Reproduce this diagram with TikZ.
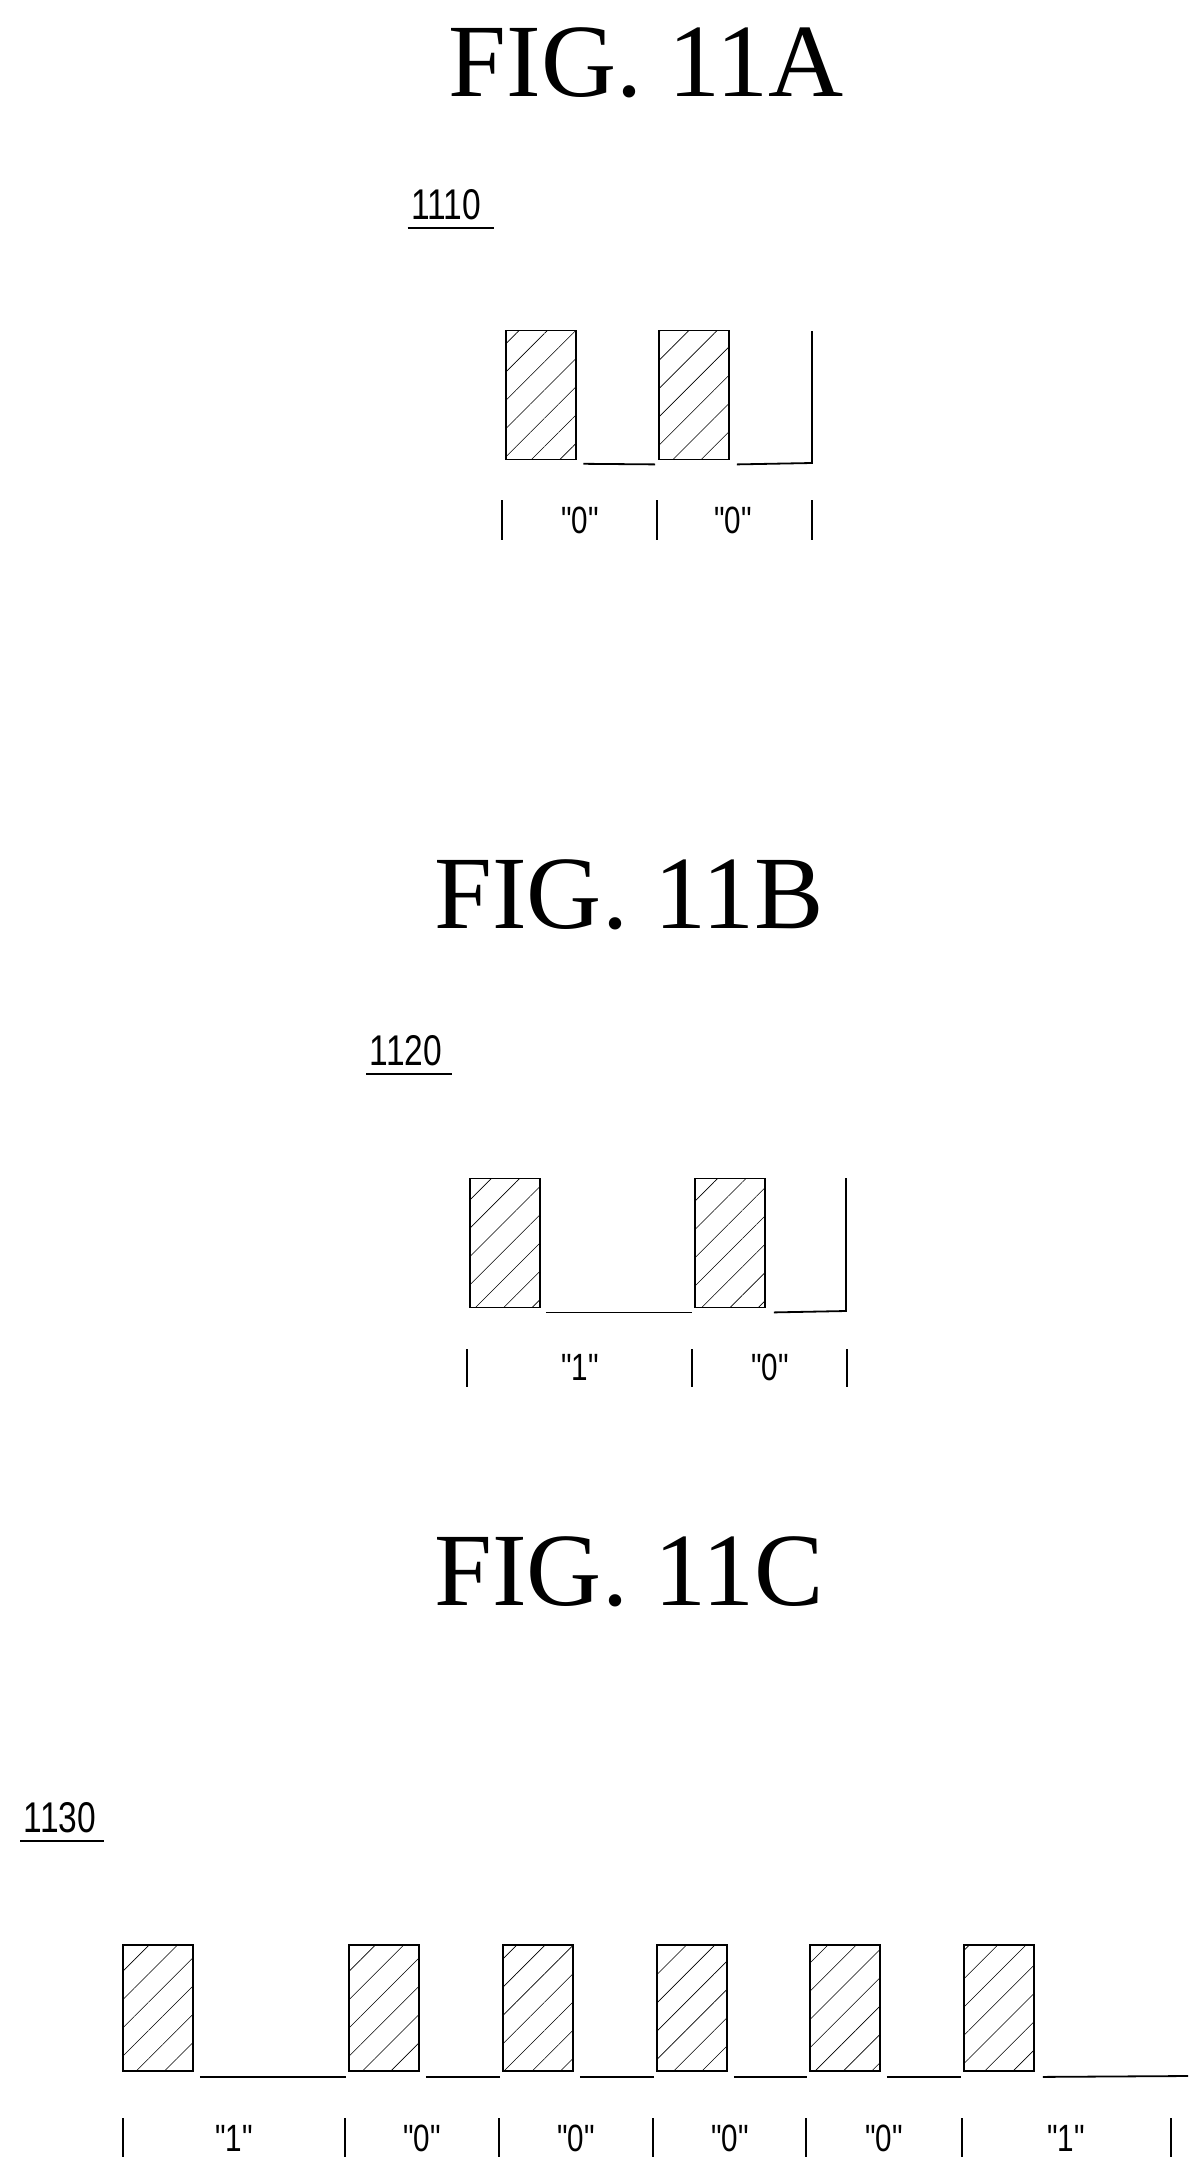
\documentclass[tikz,border=0pt]{standalone}
\usepackage{fontspec}
\setmainfont{Liberation Serif}
\newfontfamily\refsans[FakeStretch=0.78]{Liberation Sans}
\usetikzlibrary{patterns.meta}

\tikzset{
  pulse/.style={draw,line width=1.8pt,minimum width=70pt,minimum height=129pt,inner sep=0pt,
    pattern={Lines[angle=45,distance=20pt,line width=0.6pt]}},
  fig/.style={font=\fontsize{104}{110}\selectfont},
  refnum/.style={font=\refsans\fontsize{43}{46}\selectfont},
  bit/.style={font=\refsans\fontsize{38}{40}\selectfont},
  tick/.style={line width=1.8pt},
  base/.style={line width=1.8pt}
}

\begin{document}
\begin{tikzpicture}[x=1pt,y=-1pt]
\useasboundingbox (0,0) rectangle (1202,2179);

% FIG. 11A
\node[fig] (TA) at (646,63) {FIG. 11A};
\node[refnum] (RA) at (446,205) {1110};
\draw[base] (RA.south west) ++(0,4) -- ++(86,0);
\node[pulse] (A1) at (541,395) {};
\node[pulse] (A2) at (694,395) {};
\coordinate (AE) at (812,331);
\draw[base] ([xshift=7pt,yshift=-4pt]A1.south east) -- ([xshift=-3pt,yshift=-4pt]A2.south west);
\draw[base] ([xshift=7pt,yshift=-4pt]A2.south east) -- (812,463) -- (AE);
\foreach \x in {502,657,812} \draw[tick] (\x,500) -- (\x,540);
\foreach \x in {580,733} \node[bit] at (\x,520) {"0"};

% FIG. 11B
\node[fig] (TB) at (629,895) {FIG. 11B};
\node[refnum] (RB) at (406,1051) {1120};
\draw[base] (RB.south west) ++(0,4) -- ++(86,0);
\node[pulse] (B1) at (505,1243) {};
\node[pulse] (B2) at (730,1243) {};
\coordinate (BE) at (846,1178);
\draw[base] ([xshift=5pt,yshift=-4pt]B1.south east) -- ([xshift=-2pt,yshift=-4pt]B2.south west);
\draw[base] ([xshift=8pt,yshift=-4pt]B2.south east) -- (846,1311) -- (BE);
\foreach \x in {467,692,847} \draw[tick] (\x,1349) -- (\x,1387);
\node[bit] at (580,1367) {"1"};
\node[bit] at (770,1367) {"0"};

% FIG. 11C
\node[fig] (TC) at (629,1572) {FIG. 11C};
\node[refnum] (RC) at (60,1818) {1130};
\draw[base] (RC.south west) ++(0,4) -- ++(84,0);
\foreach \i/\x in {1/158,2/384,3/538,4/692,5/845,6/999} {
  \node[pulse,minimum height=126pt] (C\i) at (\x,2008) {};
}
\foreach \a/\b in {1/2,2/3,3/4,4/5,5/6} {
  \draw[base] ([xshift=6pt,yshift=-5pt]C\a.south east) -- ([xshift=-2pt,yshift=-5pt]C\b.south west);
}
\coordinate (CE) at (1188,2076);
\draw[base] ([xshift=8pt,yshift=-5pt]C6.south east) -- (CE);
\foreach \x in {123,345,499,653,806,962,1171} \draw[tick] (\x,2118) -- (\x,2157);
\foreach \x/\t in {234/1,422/0,576/0,730/0,884/0,1066/1} \node[bit] at (\x,2138) {"\t"};
\end{tikzpicture}
\end{document}
